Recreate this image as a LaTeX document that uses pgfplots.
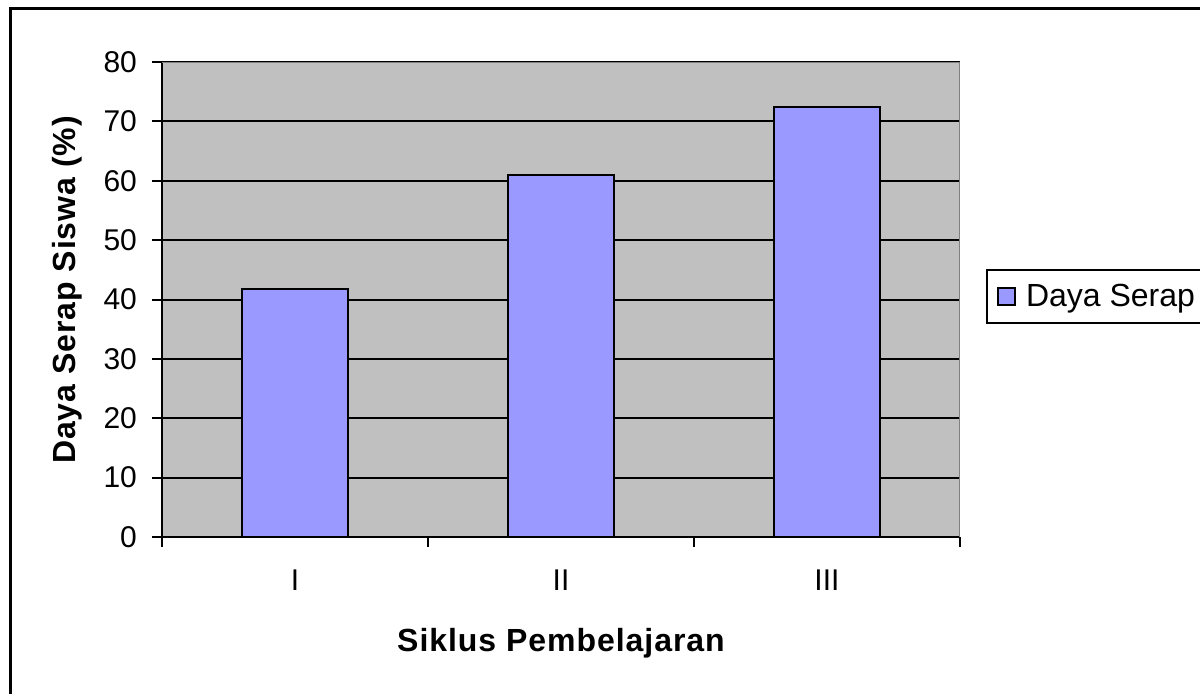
\documentclass[border=0pt]{standalone}
\usepackage{fontspec}
\setmainfont{Liberation Sans}
\newfontfamily\labelfont[LetterSpace=3]{Liberation Sans}
\usepackage{pgfplots}
\pgfplotsset{compat=1.18}
\definecolor{plotbg}{HTML}{C0C0C0}
\definecolor{barc}{HTML}{9999FF}
\definecolor{bordergray}{HTML}{808080}
\begin{document}
\begin{tikzpicture}
\useasboundingbox (0,0) rectangle (600pt,346.5pt);
\draw[line width=1.5pt] (5pt,-10pt) -- (5pt,342.5pt) -- (620pt,342.5pt);
\begin{axis}[
  at={(81pt,78pt)}, anchor=south west,
  scale only axis, width=399pt, height=237.5pt,
  xmin=0.5, xmax=3.5, ymin=0, ymax=80,
  ytick={0,10,...,80},
  xtick={0.5,1.5,2.5,3.5}, xticklabels={},
  extra x ticks={1,2,3}, extra x tick labels={I,II,III},
  extra x tick style={major tick length=0pt, grid=none},
  axis x line*=bottom, axis y line*=left,
  axis line style={line width=1pt, black, -},
  tick align=outside,
  major tick length=5pt,
  tick style={line width=1pt, black},
  ymajorgrids, grid style={line width=1pt, black},
  axis background/.style={fill=plotbg},
  ybar, bar width=0.4,
  /pgf/number format/assume math mode=true,
  ticklabel style={font=\fontsize{15}{18}\selectfont},
  xticklabel style={anchor=north, inner sep=0pt, yshift=-16pt},
  yticklabel style={xshift=-4pt},
  every axis y label/.style={at={(axis description cs:-0.109,0.52)}, rotate=90, anchor=base, font=\fontsize{16}{19}\selectfont\labelfont\bfseries},
  every axis x label/.style={at={(axis description cs:0.5,-0.242)}, anchor=base, font=\fontsize{16}{19}\selectfont\labelfont\bfseries},
  xlabel={Siklus Pembelajaran},
  ylabel={Daya Serap Siswa (\%)},
  legend style={at={(1.0326,0.5642)}, anchor=north west, draw=black, line width=1pt, fill=white, font=\fontsize{16}{19}\selectfont, inner xsep=4pt, inner ysep=5pt, legend cell align=left},
]
\addplot[fill=barc, draw=black, line width=1pt,
  legend image code/.code={\path[draw=none,fill=none] (0pt,0pt) -- (13.5pt,0pt);\draw[fill=barc, draw=black, line width=0.8pt] (1.5pt,-4.25pt) rectangle (10pt,4.25pt);}]
  coordinates {(1,41.8) (2,61) (3,72.4)};
\addlegendentry{Daya Serap\hspace*{20pt}}
\draw[line width=1pt, bordergray] (rel axis cs:0,1) -- (rel axis cs:1,1) -- (rel axis cs:1,0);
\end{axis}
\end{tikzpicture}
\end{document}
